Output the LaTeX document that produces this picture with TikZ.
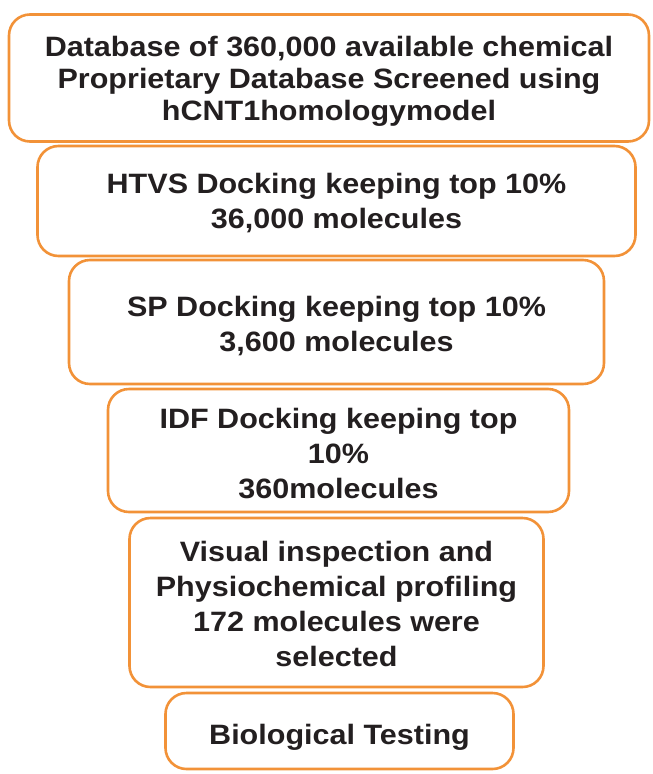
\documentclass[tikz,border=0pt]{standalone}
\usepackage{fontspec}
\setmainfont{Liberation Sans}[FakeStretch=1.09]
\definecolor{boxorange}{RGB}{242,146,56}
\definecolor{inkgray}{RGB}{35,31,32}
\begin{document}
\begin{tikzpicture}[x=1pt,y=-1pt,
  stage/.style={draw=boxorange,line width=2.6pt,rounded corners=21pt,fill=white,
    inner sep=0pt,outer sep=0pt},
  stagetext/.style={align=center,text=inkgray,inner sep=0pt,
    font=\fontsize{28}{#1}\selectfont\bfseries},
  stagetext/.default=35]
     \useasboundingbox (0,0) rectangle (653,774);
     % caselle dall'alto verso il basso
     \node[stage,minimum width=640,minimum height=127] (db) at (329,78) {};
     \node[stage,minimum width=598,minimum height=110] (htvs) at (336.5,201) {};
     \node[stage,minimum width=535,minimum height=124] (sp) at (336.5,322) {};
     \node[stage,minimum width=461,minimum height=123] (idf) at (338.5,450.5) {};
     \node[stage,minimum width=414,minimum height=169] (vis) at (336.5,602.5) {};
     \node[stage,minimum width=348,minimum height=76] (bio) at (339.5,731) {};
     % testi, spostati un po' rispetto al centro
     \node[stagetext=32] (db-txt) at ([yshift=-3.5pt]db.center)
        {Database of 360,000 available chemical\\Proprietary Database Screened using\\hCNT1homologymodel};
     \node[stagetext] (htvs-txt) at ([yshift=-2pt]htvs.center)
        {HTVS Docking keeping top 10\%\\36,000 molecules};
     \node[stagetext] (sp-txt) at ([yshift=-4pt]sp.center)
        {SP Docking keeping top 10\%\\3,600 molecules};
     \node[stagetext] (idf-txt) at ([yshift=-3pt]idf.center)
        {IDF Docking keeping top\\10\%\\360molecules};
     \node[stagetext] (vis-txt) at ([yshift=-1pt]vis.center)
        {Visual inspection and\\Physiochemical profiling\\172 molecules were\\selected};
     \node[stagetext] (bio-txt) at ([yshift=-6pt]bio.center)
        {Biological Testing};
\end{tikzpicture}
\end{document}
